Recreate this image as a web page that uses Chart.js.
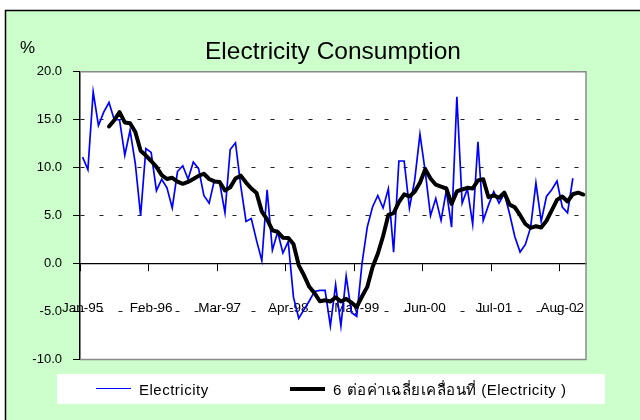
<!DOCTYPE html>
<html>
<head>
<meta charset="utf-8">
<script src="https://cdn.jsdelivr.net/npm/chart.js@4"></script>
<style>
  html, body { margin: 0; padding: 0; background: #fff; }
  #wrap { position: relative; width: 640px; height: 420px; overflow: hidden; }
  #c { position: absolute; left: 0; top: 0; }
  #pct { position: absolute; left: 20px; top: 38px; font: 17px 'Liberation Sans', Arial, sans-serif; color: #000; }
  #legend { position: absolute; left: 57px; top: 374px; width: 548px; height: 30px; background: #fff;
            font: 15px 'Liberation Sans', Arial, sans-serif; letter-spacing: 0.5px; color: #000; }
  .item { position: absolute; top: 0; height: 30px; line-height: 30px; white-space: nowrap; }
  .swatch { position: absolute; top: 50%; width: 35px; }
  .txt { position: absolute; top: 1px; }
</style>
</head>
<body>
<div id="wrap">
  <canvas id="c" width="640" height="420"></canvas>
  <div id="pct">%</div>
  <div id="legend"></div>
</div>
<script>
const categories = [
  'Jan-95','Feb-95','Mar-95','Apr-95','May-95','Jun-95','Jul-95','Aug-95','Sep-95','Oct-95','Nov-95','Dec-95',
  'Jan-96','Feb-96','Mar-96','Apr-96','May-96','Jun-96','Jul-96','Aug-96','Sep-96','Oct-96','Nov-96','Dec-96',
  'Jan-97','Feb-97','Mar-97','Apr-97','May-97','Jun-97','Jul-97','Aug-97','Sep-97','Oct-97','Nov-97','Dec-97',
  'Jan-98','Feb-98','Mar-98','Apr-98','May-98','Jun-98','Jul-98','Aug-98','Sep-98','Oct-98','Nov-98','Dec-98',
  'Jan-99','Feb-99','Mar-99','Apr-99','May-99','Jun-99','Jul-99','Aug-99','Sep-99','Oct-99','Nov-99','Dec-99',
  'Jan-00','Feb-00','Mar-00','Apr-00','May-00','Jun-00','Jul-00','Aug-00','Sep-00','Oct-00','Nov-00','Dec-00',
  'Jan-01','Feb-01','Mar-01','Apr-01','May-01','Jun-01','Jul-01','Aug-01','Sep-01','Oct-01','Nov-01','Dec-01',
  'Jan-02','Feb-02','Mar-02','Apr-02','May-02','Jun-02','Jul-02','Aug-02','Sep-02','Oct-02','Nov-02','Dec-02'
];

const electricity = [
  11.1, 9.8, 17.9, 14.4, 15.8, 16.8, 15.0, 15.0, 11.3, 13.9, 10.4, 5.0,
  12.0, 11.6, 7.6, 8.8, 7.9, 5.8, 9.6, 10.2, 8.8, 10.6, 9.9, 7.1,
  6.3, 8.7, 8.4, 5.3, 11.9, 12.6, 8.1, 4.4, 4.7, 2.4, 0.3, 7.7,
  1.4, 3.3, 1.1, 2.3, -3.5, -5.7, -4.8, -3.9, -2.9, -2.8, -2.8, -6.5,
  -2.2, -6.5, -1.3, -5.1, -5.5, 0.0, 3.8, 5.9, 7.1, 5.8, 7.8, 1.2,
  10.7, 10.7, 5.8, 8.7, 13.5, 9.6, 5.0, 6.8, 4.5, 7.6, 3.8, 17.4,
  6.3, 7.8, 4.1, 12.7, 4.5, 6.1, 7.5, 6.3, 7.3, 5.2, 2.8, 1.2,
  2.0, 3.8, 8.4, 4.4, 7.0, 7.7, 8.6, 5.9, 5.3, 8.9, null, null
];

const movingAverage = [
  null, null, null, null, null, 14.3, 14.95, 15.8, 14.72, 14.63, 13.73, 11.77,
  11.27, 10.7, 10.08, 9.23, 8.82, 8.95, 8.55, 8.32, 8.52, 8.82, 9.15, 9.37,
  8.82, 8.57, 8.5, 7.62, 7.95, 8.87, 9.17, 8.45, 7.83, 7.35, 5.42, 4.6,
  3.48, 3.3, 2.7, 2.68, 2.05, -0.18, -1.22, -2.42, -3.08, -3.93, -3.82, -3.95,
  -3.52, -3.95, -3.68, -4.07, -4.52, -3.43, -2.43, -0.37, 1.03, 2.85, 5.07, 5.27,
  6.42, 7.22, 7.0, 7.48, 8.43, 9.83, 8.88, 8.23, 8.02, 7.83, 6.22, 7.52,
  7.73, 7.9, 7.83, 8.68, 8.8, 6.92, 7.12, 6.87, 7.4, 6.15, 5.87, 5.05,
  4.13, 3.72, 3.9, 3.77, 4.47, 5.55, 6.65, 7.0, 6.48, 7.23, 7.4, 7.2
];

const tickLabels = ['Jan-95','Feb-96','Mar-97','Apr-98','May-99','Jun-00','Jul-01','Aug-02'];
const seriesNames = ['Electricity', '6 ต่อค่าเฉลี่ยเคลื่อนที่ (Electricity  )'];
const chartTitle = 'Electricity Consumption';

const FONT = "'Liberation Sans', Arial, sans-serif";

const framePlugin = {
  id: 'frame',
  beforeDraw(chart) {
    const { ctx, chartArea: a } = chart;
    ctx.save();
    ctx.fillStyle = '#ffffff';
    ctx.fillRect(0, 0, chart.width, chart.height);
    ctx.fillStyle = '#CCFFCC';
    ctx.fillRect(5, 10, chart.width, chart.height);
    ctx.strokeStyle = '#000';
    ctx.lineWidth = 1.5;
    ctx.beginPath();
    ctx.moveTo(5.5, chart.height + 2);
    ctx.lineTo(5.5, 10.5);
    ctx.lineTo(chart.width + 2, 10.5);
    ctx.stroke();
    ctx.fillStyle = '#ffffff';
    ctx.fillRect(a.left, a.top, a.right - a.left, a.bottom - a.top);
    ctx.restore();
  },
  beforeDatasetsDraw(chart) {
    const { ctx, chartArea: a } = chart;
    ctx.save();
    ctx.strokeStyle = '#8a8a8a';
    ctx.lineWidth = 1.5;
    ctx.beginPath();
    ctx.moveTo(a.left, a.top);
    ctx.lineTo(a.right, a.top);
    ctx.lineTo(a.right, a.bottom);
    ctx.lineTo(a.left, a.bottom);
    ctx.stroke();
    ctx.restore();
  }
};

const chart = new Chart(document.getElementById('c'), {
  type: 'line',
  data: {
    labels: categories,
    datasets: [
      {
        label: seriesNames[0],
        data: electricity,
        borderColor: '#0000FF',
        backgroundColor: '#0000FF',
        borderWidth: 1.7,
        pointRadius: 0,
        tension: 0,
        order: 2
      },
      {
        label: seriesNames[1],
        data: movingAverage,
        borderColor: '#000000',
        backgroundColor: '#000000',
        borderWidth: 4,
        pointRadius: 0,
        tension: 0,
        borderJoinStyle: 'round',
        borderCapStyle: 'round',
        order: 1
      }
    ]
  },
  options: {
    responsive: false,
    animation: false,
    devicePixelRatio: 1,
    layout: { padding: { left: 0, right: 54, top: 0, bottom: 60.5 } },
    plugins: {
      legend: { display: false },
      tooltip: { enabled: false },
      title: {
        display: true,
        text: chartTitle,
        fullSize: false,
        color: '#000',
        font: { family: FONT, size: 24.5, weight: 'normal' },
        padding: { top: 37.3, bottom: 5.1 }
      }
    },
    scales: {
      x: {
        type: 'category',
        position: { y: 0 },
        offset: true,
        grid: {
          offset: true,
          drawOnChartArea: false,
          drawTicks: true,
          tickLength: 7,
          tickWidth: 1,
          tickColor: (ctx) => (ctx.index % 13 === 0 ? '#000' : 'rgba(0,0,0,0)')
        },
        border: { display: true, color: '#000', width: 1.2 },
        ticks: {
          autoSkip: false,
          maxRotation: 0,
          minRotation: 0,
          padding: 30,
          color: '#000',
          font: { family: FONT, size: 13.5 },
          callback: (v, i) => (tickLabels.includes(categories[i]) ? categories[i] : '')
        }
      },
      y: {
        min: -10,
        max: 20,
        afterFit: (s) => { s.width = 80; },
        ticks: {
          stepSize: 5,
          padding: 11,
          color: '#000',
          font: { family: FONT, size: 13 },
          callback: (v) => Number(v).toFixed(1)
        },
        grid: {
          color: (ctx) => {
            const v = ctx.tick && ctx.tick.value;
            return (v === 15 || v === 10 || v === 5 || v === -5) ? '#222' : 'rgba(0,0,0,0)';
          },
          lineWidth: 1,
          drawTicks: true,
          tickLength: 7,
          tickColor: '#000',
          tickWidth: 1
        },
        border: { display: true, color: '#000', width: 1.5, dash: [4, 15] }
      }
    }
  },
  plugins: [framePlugin]
});

// HTML legend built from the chart's datasets
const legendEl = document.getElementById('legend');
const itemX = [39, 233];
chart.data.datasets.forEach((ds, i) => {
  const item = document.createElement('div');
  item.className = 'item';
  item.style.left = itemX[i] + 'px';
  const sw = document.createElement('div');
  sw.className = 'swatch';
  sw.style.left = '0px';
  sw.style.borderTop = ds.borderWidth + 'px solid ' + ds.borderColor;
  sw.style.marginTop = (-ds.borderWidth / 2) + 'px';
  const t = document.createElement('span');
  t.className = 'txt';
  t.style.left = '43px';
  t.textContent = ds.label;
  item.appendChild(sw);
  item.appendChild(t);
  legendEl.appendChild(item);
});
</script>
</body>
</html>
